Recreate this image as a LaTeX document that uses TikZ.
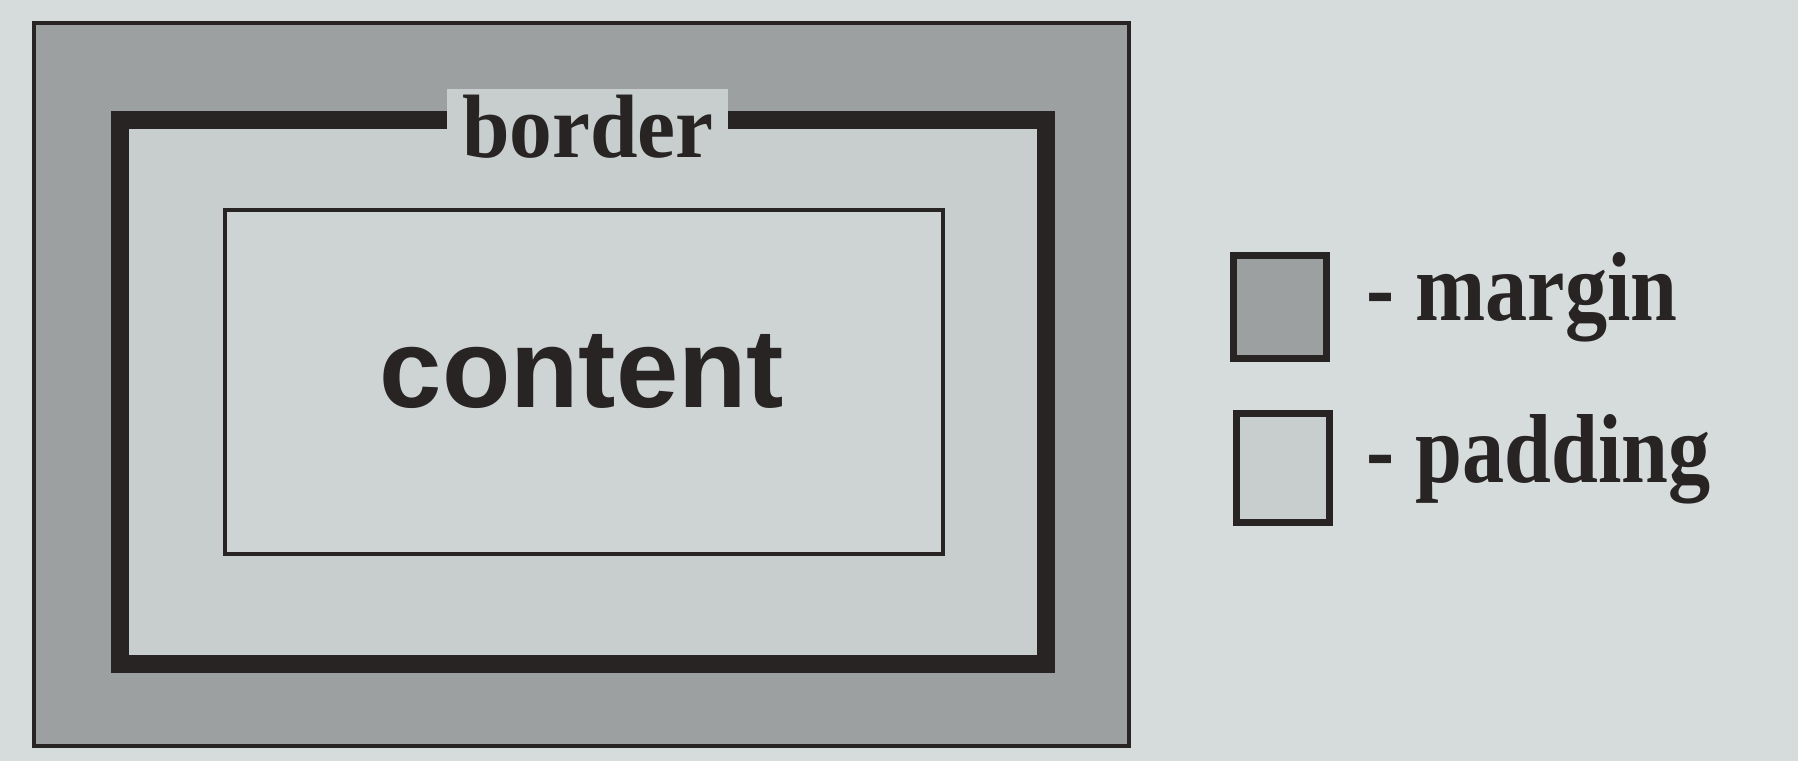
\documentclass[tikz,border=0pt]{standalone}
\usepackage{fontspec}
\setmainfont{Liberation Serif}
\setsansfont{Liberation Sans}
\definecolor{bgcol}{RGB}{214,220,220}
\definecolor{margincol}{RGB}{156,160,160}
\definecolor{paddingcol}{RGB}{200,206,206}
\definecolor{contentcol}{RGB}{206,212,212}
\definecolor{linecol}{RGB}{40,36,36}
\begin{document}
\begin{tikzpicture}[x=1pt,y=-1pt,
  thinline/.style={draw=linecol,line width=4pt},
  frameline/.style={draw=linecol,line width=18pt},
  legendbox/.style={draw=linecol,line width=7pt,minimum width=93pt,minimum height=103pt,inner sep=0pt},
  legendtext/.style={font=\bfseries\fontsize{98}{98}\selectfont,text=linecol,inner sep=0pt,anchor=base west},
  labeltext/.style={font=\bfseries\fontsize{90}{90}\selectfont,text=linecol,inner sep=0pt,anchor=base},
  bigtext/.style={font=\sffamily\bfseries\fontsize{112}{112}\selectfont,text=linecol,inner sep=0pt,anchor=base}]
\useasboundingbox (0,0) rectangle (1798,761);
\fill[bgcol] (0,0) rectangle (1798,761);
% margin area
\draw[thinline,fill=margincol] (34,23) rectangle (1129,746);
% padding area
\fill[paddingcol] (120,120) rectangle (1046,664);
% label background
\fill[paddingcol] (447,89) rectangle (728,130);
% border frame
\draw[frameline] (447,120) -- (120,120) -- (120,664) -- (1046,664) -- (1046,120) -- (728,120);
% content box
\draw[thinline,fill=contentcol] (225,210) rectangle (943,554);
\node[bigtext] (content) at (582,407) {content};
\node[labeltext] (border) at (588,157) {\scalebox{0.95}[1]{border}};
% legend
\node[legendbox,fill=margincol] (mbox) at (1279.5,306.5) {};
\node[legendbox,fill=paddingcol,minimum height=109pt] (pbox) at (1282.5,467.5) {};
\node[legendtext] (mtext) at (1366,320) {\scalebox{0.86}[1]{- margin}};
\node[legendtext] (ptext) at (1366,482) {\scalebox{0.86}[1]{- padding}};
\end{tikzpicture}
\end{document}
